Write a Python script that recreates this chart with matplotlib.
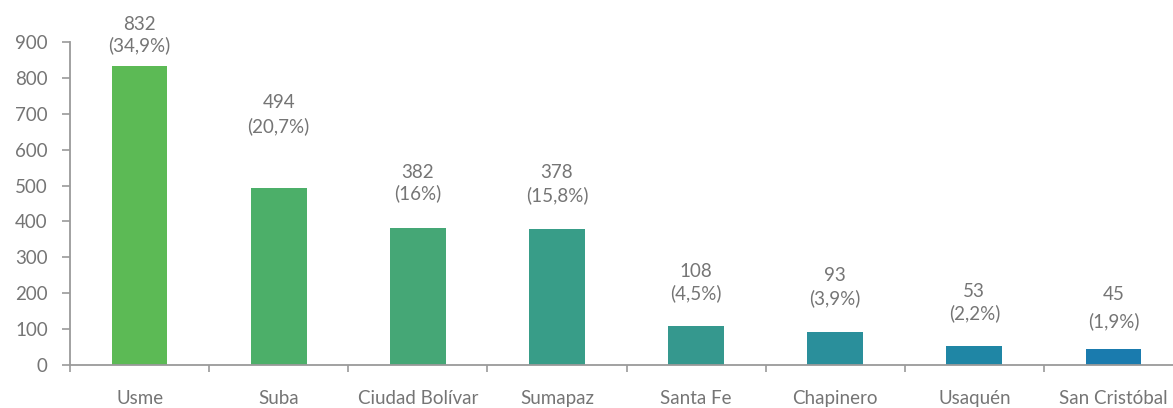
import matplotlib
matplotlib.use("Agg")
import matplotlib.pyplot as plt
import numpy as np

categories = ["Usme", "Suba", "Ciudad Bolívar", "Sumapaz", "Santa Fe",
              "Chapinero", "Usaquén", "San Cristóbal"]
values = [832, 494, 382, 378, 108, 93, 53, 45]
percents = ["34,9%", "20,7%", "16%", "15,8%", "4,5%", "3,9%", "2,2%", "1,9%"]
y_ticks = [0, 100, 200, 300, 400, 500, 600, 700, 800, 900]

bar_colors = ["#5cba55", "#4caf69", "#45a776", "#389d88", "#35988e",
              "#2a8f9b", "#1f86a5", "#1a7bae"]
# vertical gap (px) between bar top and the two label lines (style)
value_gap_px = [42, 85, 55, 57, 55, 56, 54, 54]
pct_gap_px = [21, 62, 35, 34, 33, 33, 33, 28]

plt.rcParams['font.family'] = ['Lato', 'DejaVu Sans']
text_color = "#757575"
axis_color = "#9a9a9a"
fs = 13.5

W, H = 1173, 408
fig = plt.figure(figsize=(W / 100, H / 100), dpi=100)
ax = fig.add_axes([70 / W, (H - 365) / H, 1113 / W, 323 / H])

x = np.arange(len(categories)) + 0.5
ax.bar(x, values, width=0.4, color=bar_colors, zorder=2)

ax.set_xlim(0, len(categories))
ax.set_ylim(0, 900)

for sp in ["top", "right"]:
    ax.spines[sp].set_visible(False)
ax.spines["left"].set_color(axis_color)
ax.spines["bottom"].set_color(axis_color)
ax.spines["left"].set_linewidth(1.3)
ax.spines["bottom"].set_linewidth(1.3)

ax.set_yticks(y_ticks)
ax.set_yticklabels([str(v) for v in y_ticks])
ax.tick_params(axis="y", direction="out", length=6, width=1.2, color=axis_color,
               labelsize=fs, labelcolor=text_color, pad=10)

ax.set_xticks(x)
ax.set_xticklabels(categories)
ax.tick_params(axis="x", which="major", length=0, pad=18,
               labelsize=fs, labelcolor=text_color)
ax.set_xticks(np.arange(len(categories) + 1), minor=True)
ax.tick_params(axis="x", which="minor", direction="out", length=5, width=1.2,
               color=axis_color)

for xi, v, p, g1, g2 in zip(x, values, percents, value_gap_px, pct_gap_px):
    ax.annotate(str(v), (xi, v), xytext=(0, g1 * 0.72), textcoords="offset points",
                ha="center", va="center", fontsize=fs, color=text_color)
    ax.annotate(f"({p})", (xi, v), xytext=(0, g2 * 0.72), textcoords="offset points",
                ha="center", va="center", fontsize=fs, color=text_color)

fig.savefig("out.png", dpi=100)
